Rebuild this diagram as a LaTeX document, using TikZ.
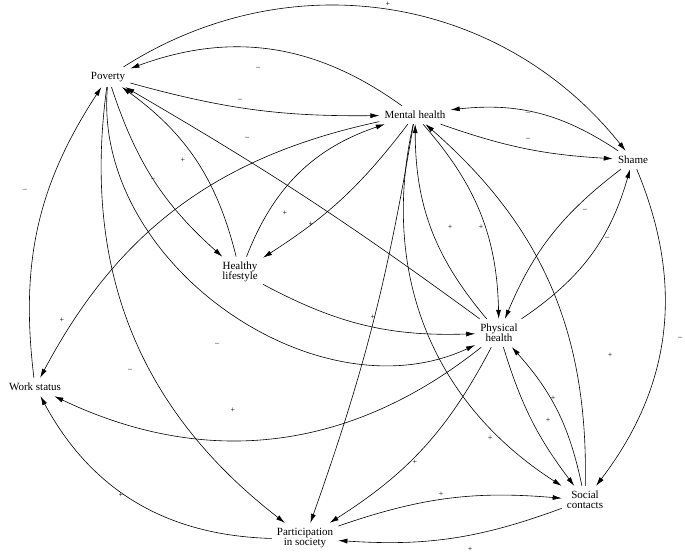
\documentclass[tikz,border=0pt]{standalone}
\usepackage{fontspec}
\setmainfont{Liberation Serif}
\usetikzlibrary{arrows.meta}
\begin{document}
\begin{tikzpicture}[x=1pt, y=-1pt, line width=.6pt,
		var/.style={font=\fontsize{11}{12}\selectfont, align=center, inner sep=5pt},
		sgn/.style={font=\fontsize{8}{9}\selectfont, inner sep=0pt},
		link/.style={-{Latex[length=9pt,width=5pt]}}]
		\useasboundingbox (0,0) rectangle (685,554);
		% variables
		\node (poverty) [var] at (108,77) {Poverty};
		\node (mental) [var] at (415,115) {Mental health};
		\node (shame) [var] at (633,160) {Shame};
		\node (lifestyle) [var] at (240,272) {Healthy\\[-2pt]lifestyle};
		\node (physical) [var] at (499,333) {Physical\\[-2pt]health};
		\node (work) [var] at (35,387) {Work status};
		\node (social) [var] at (585,500) {Social\\[-2pt]contacts};
		\node (particip) [var] at (305,538) {Participation\\[-2pt]in society};
		% links from poverty
		\draw [link] (poverty) to [bend left=42] (shame);
		\draw [link] (poverty) to [bend right=8] (mental);
		\draw [link] (poverty) to [bend right=15] (lifestyle);
		\draw [link] (poverty) to [bend right=60] (physical);
		\draw [link] (poverty) to [bend right=30] (particip);
		\draw [link] (work) to [bend left=20] (poverty);
		\draw [link] (mental) to [bend right=28] (poverty);
		\draw [link] (physical) to [bend right=3] (poverty);
		\draw [link] (lifestyle) to [bend right=20] (poverty);
		% links from mental health
		\draw [link] (mental) to [bend right=8] (shame);
		\draw [link] (shame) to [bend right=20] (mental);
		\draw [link] (mental) to [bend right=25] (work);
		\draw [link] (mental) to [bend left=10] (lifestyle);
		\draw [link] (lifestyle) to [bend left=25] (mental);
		\draw [link] (mental) to [bend left=5] (particip);
		\draw [link] (mental) to [bend right=35] (social);
		\draw [link] (mental) to [bend left=20] (physical);
		\draw [link] (physical) to [bend left=20] (mental);
		\draw [link] (social) to [bend right=25] (mental);
		% links from shame
		\draw [link] (shame) to [bend right=15] (physical);
		\draw [link] (physical) to [bend right=20] (shame);
		\draw [link] (shame) to [bend left=30] (social);
		% other links
		\draw [link] (lifestyle) to [bend right=15] (physical);
		\draw [link] (physical) to [bend left=32] (work);
		\draw [link] (particip) to [bend left=30] (work);
		\draw [link] (physical) to [bend left=15] (particip);
		\draw [link] (physical) to [bend right=10] (social);
		\draw [link] (social) to [bend right=15] (physical);
		\draw [link] (particip) to [bend left=12] (social);
		\draw [link] (social) to [bend left=12] (particip);
		% signs
		\node (s1) [sgn] at (388,4) {+};
		\node (s2) [sgn] at (258,68) {--};
		\node (s3) [sgn] at (240,100) {--};
		\node (s4) [sgn] at (247,138) {--};
		\node (s5) [sgn] at (183,160) {+};
		\node (s6) [sgn] at (153,179) {--};
		\node (s7) [sgn] at (25,190) {--};
		\node (s8) [sgn] at (217,344) {--};
		\node (s9) [sgn] at (130,370) {--};
		\node (s10) [sgn] at (62,320) {+};
		\node (s11) [sgn] at (285,213) {+};
		\node (s12) [sgn] at (311,224) {+};
		\node (s13) [sgn] at (528,113) {--};
		\node (s14) [sgn] at (528,139) {--};
		\node (s15) [sgn] at (450,227) {+};
		\node (s16) [sgn] at (481,227) {+};
		\node (s17) [sgn] at (585,210) {--};
		\node (s18) [sgn] at (607,238) {--};
		\node (s19) [sgn] at (680,338) {--};
		\node (s20) [sgn] at (373,317) {+};
		\node (s21) [sgn] at (610,355) {+};
		\node (s22) [sgn] at (233,410) {+};
		\node (s23) [sgn] at (553,398) {+};
		\node (s24) [sgn] at (548,420) {+};
		\node (s25) [sgn] at (490,438) {+};
		\node (s26) [sgn] at (415,462) {+};
		\node (s27) [sgn] at (121,495) {+};
		\node (s28) [sgn] at (441,494) {+};
		\node (s29) [sgn] at (470,549) {+};
\end{tikzpicture}
\end{document}
